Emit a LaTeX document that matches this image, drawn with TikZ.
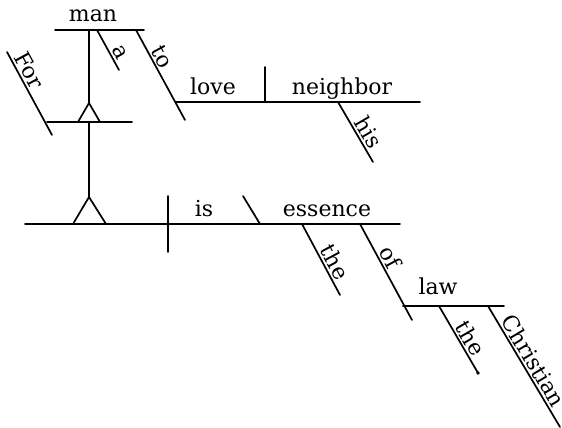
\documentclass[tikz,border=0pt]{standalone}
\usepackage{fontspec}
\setmainfont{DejaVu Serif}
\begin{document}
\begin{tikzpicture}[x=1pt,y=-1pt,
  ln/.style={line width=1.7pt, line cap=round},
  wd/.style={font=\fontsize{22}{26}\selectfont, inner sep=0pt, anchor=base},
  sw/.style={font=\fontsize{22}{26}\selectfont, sloped, above, inner sep=2pt}]
\useasboundingbox (0,0) rectangle (562,428);
% coordinates
\coordinate (manL) at (55,30);   \coordinate (manR) at (144,30);
\coordinate (manV) at (89,30);   \coordinate (apex1) at (89,103);
\coordinate (midL) at (47,122);  \coordinate (midR) at (132,122);
\coordinate (t1L) at (78,122);   \coordinate (t1R) at (100,122);
\coordinate (midV) at (89,122);  \coordinate (apex2) at (89,197);
\coordinate (t2L) at (73,224);   \coordinate (t2R) at (106,224);
\coordinate (forA) at (7,52);    \coordinate (forB) at (52,135);
\coordinate (aA) at (97,30);     \coordinate (aB) at (119,70);
\coordinate (toA) at (136,30);   \coordinate (toB) at (185,120);
\coordinate (loveL) at (176,102); \coordinate (loveR) at (420,102);
\coordinate (dvA) at (265,67);   \coordinate (dvB) at (265,102);
\coordinate (hisA) at (338,102); \coordinate (hisB) at (373,162);
\coordinate (mainL) at (25,224); \coordinate (mainR) at (400,224);
\coordinate (spA) at (168,196);  \coordinate (spB) at (168,252);
\coordinate (pnA) at (243,196);  \coordinate (pnB) at (260,224);
\coordinate (th1A) at (302,224); \coordinate (th1B) at (340,295);
\coordinate (ofA) at (360,224);  \coordinate (ofB) at (412,320);
\coordinate (lawL) at (403,306); \coordinate (lawR) at (504,306);
\coordinate (th2A) at (439,306); \coordinate (th2B) at (478,373);
\coordinate (chA) at (488,306);  \coordinate (chB) at (560,427);
% infinitive phrase on stilt
\draw[ln] (manL) -- (manR);
\node[wd] (wman) at (93,22) {man};
\draw[ln] (manV) -- (apex1);
\draw[ln] (midL) -- (midR);
\draw[ln] (t1L) -- (apex1) -- (t1R);
\draw[ln] (forA) -- node[sw,pos=.28] (wfor) {For} (forB);
\draw[ln] (aA) -- node[sw,pos=.67] (wa) {a} (aB);
\draw[ln] (toA) -- node[sw,pos=.35] (wto) {to} (toB);
\draw[ln] (loveL) -- (loveR);
\draw[ln] (dvA) -- (dvB);
\node[wd] (wlove) at (213,94) {love};
\node[wd] (wneigh) at (342,94) {neighbor};
\draw[ln] (hisA) -- node[sw,pos=.6] (whis) {his} (hisB);
% stilt to main line
\draw[ln] (midV) -- (apex2);
\draw[ln] (t2L) -- (apex2) -- (t2R);
% main line
\draw[ln] (mainL) -- (mainR);
\draw[ln] (spA) -- (spB);
\draw[ln] (pnA) -- (pnB);
\node[wd] (wis) at (204,216) {is};
\node[wd] (wess) at (327,216) {essence};
\draw[ln] (th1A) -- node[sw,pos=.61] (wthe1) {the} (th1B);
\draw[ln] (ofA) -- node[sw,pos=.4] (wof) {of} (ofB);
\draw[ln] (lawL) -- (lawR);
\node[wd] (wlaw) at (438,294) {law};
\draw[ln] (th2A) -- node[sw,pos=.56] (wthe2) {the} (th2B);
\fill (th2B) circle (1.8pt);
\draw[ln] (chA) -- node[sw,pos=.5] (wch) {Christian} (chB);
\end{tikzpicture}
\end{document}
